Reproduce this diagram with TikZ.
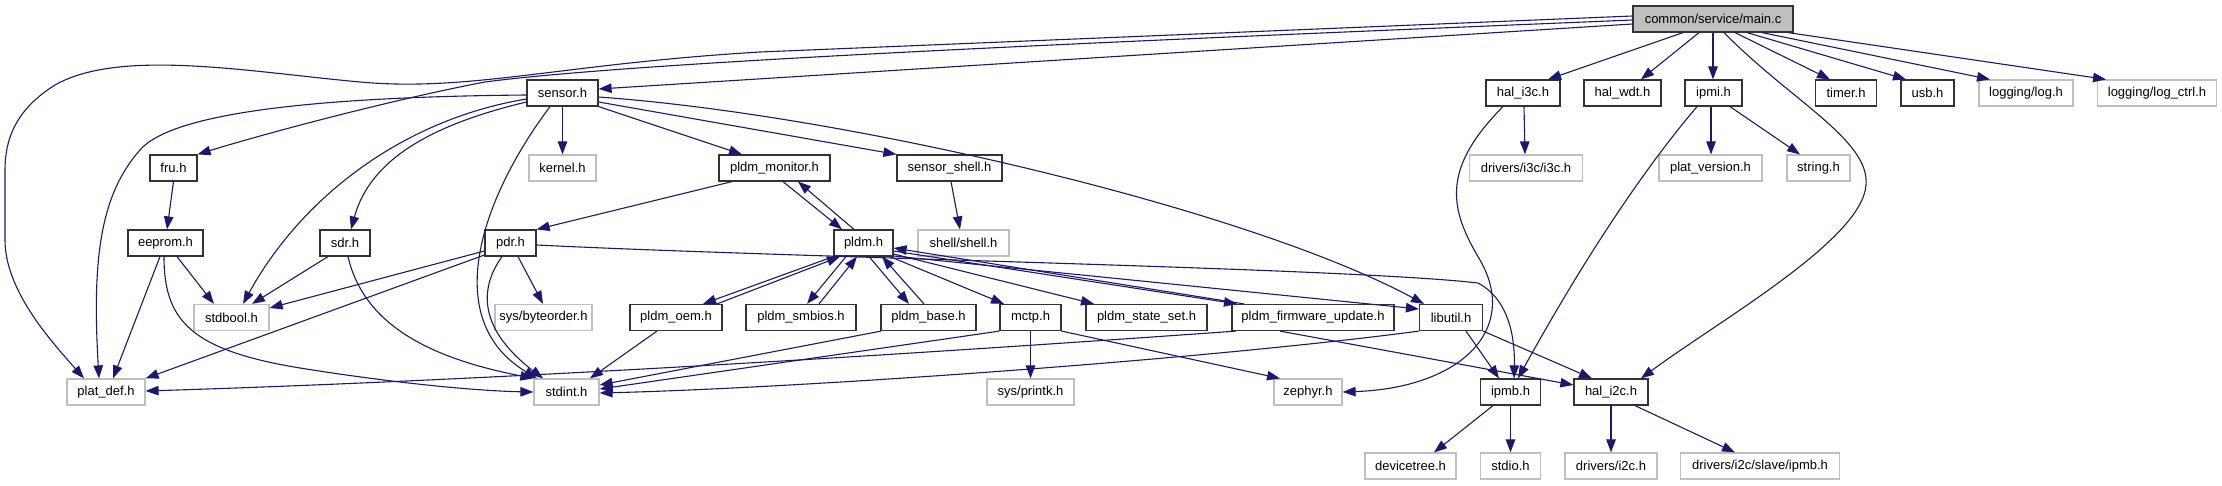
\documentclass[tikz,border=0pt]{standalone}
\usepackage{fontspec}
\setmainfont{Liberation Sans}
\usetikzlibrary{arrows.meta}
\definecolor{edgeblue}{HTML}{191970}
\definecolor{extgray}{HTML}{BFBFBF}
\definecolor{maingray}{HTML}{BFBFBF}
\definecolor{boxline}{HTML}{333333}
\newcommand\labfont{\fontsize{13}{15}\selectfont}
\tikzset{
  box/.style={draw=boxline, line width=1.2pt, fill=white, minimum height=26pt, inner sep=0pt, font=\labfont},
  ext/.style={box, draw=extgray},
  e/.style={draw=edgeblue, line width=1.1pt, -{Triangle[length=13pt,width=9.5pt]}},
}
\begin{document}
\begin{tikzpicture}[x=1pt,y=-1pt]
\useasboundingbox (0,0) rectangle (2222,485);
% row 1
\node[box, fill=maingray, minimum width=160pt] (main) at (1713,19) {common/service/main.c};
% row 2
\node[box, minimum width=71pt] (sensor) at (562.5,93) {sensor.h};
\node[box, minimum width=74pt] (hali3c) at (1523,93) {hal\_i3c.h};
\node[box, minimum width=77pt] (halwdt) at (1622.5,93) {hal\_wdt.h};
\node[box, minimum width=57pt] (ipmi) at (1713.5,93) {ipmi.h};
\node[box, minimum width=61pt] (timer) at (1846,93) {timer.h};
\node[box, minimum width=53pt] (usb) at (1927.5,93) {usb.h};
\node[ext, minimum width=94pt] (log) at (2026,93) {logging/log.h};
\node[ext, minimum width=119pt] (logctrl) at (2157,93) {logging/log\_ctrl.h};
% row 3
\node[box, minimum width=47pt] (fru) at (173.5,168) {fru.h};
\node[ext, minimum width=67pt] (kernel) at (562.5,168) {kernel.h};
\node[box, minimum width=111pt] (pldmmon) at (774.5,168) {pldm\_monitor.h};
\node[box, minimum width=105pt] (sshell) at (949.5,168) {sensor\_shell.h};
\node[ext, minimum width=113pt] (i3c) at (1526,168) {drivers/i3c/i3c.h};
\node[ext, minimum width=103pt] (platver) at (1710.5,168) {plat\_version.h};
\node[ext, minimum width=63pt] (string) at (1818.5,168) {string.h};
% row 4
\node[box, minimum width=75pt] (eeprom) at (165.5,243) {eeprom.h};
\node[box, minimum width=50pt] (sdr) at (345,243) {sdr.h};
\node[box, minimum width=51pt] (pdr) at (510.5,243) {pdr.h};
\node[box, minimum width=59pt] (pldm) at (863.5,243) {pldm.h};
\node[ext, minimum width=91pt] (shell) at (963.5,243) {shell/shell.h};
% row 5
\node[ext, minimum width=75pt] (stdbool) at (231.5,317.5) {stdbool.h};
\node[ext, minimum width=97pt] (byteorder) at (543.5,317.5) {sys/byteorder.h};
\node[box, minimum width=92pt] (oem) at (676,317.5) {pldm\_oem.h};
\node[box, minimum width=110pt] (smbios) at (801,317.5) {pldm\_smbios.h};
\node[box, minimum width=95pt] (base) at (928.5,317.5) {pldm\_base.h};
\node[box, minimum width=61pt] (mctp) at (1030.5,317.5) {mctp.h};
\node[box, minimum width=121pt] (stateset) at (1146.5,317.5) {pldm\_state\_set.h};
\node[box, minimum width=162pt] (pfu) at (1313,317.5) {pldm\_firmware\_update.h};
\node[box, minimum width=63pt] (libutil) at (1451,317.5) {libutil.h};
% row 6
\node[ext, minimum width=78pt] (platdef) at (106,392) {plat\_def.h};
\node[ext, minimum width=65pt] (stdint) at (566.5,392) {stdint.h};
\node[ext, minimum width=87pt] (printk) at (1030.5,392) {sys/printk.h};
\node[ext, minimum width=68pt] (zephyr) at (1308,392) {zephyr.h};
\node[box, minimum width=60pt] (ipmb) at (1510.5,392) {ipmb.h};
\node[box, minimum width=74pt] (hali2c) at (1611,392) {hal\_i2c.h};
% row 7
\node[ext, minimum width=91pt] (devicetree) at (1410.5,466) {devicetree.h};
\node[ext, minimum width=60pt] (stdio) at (1510.5,466) {stdio.h};
\node[ext, minimum width=92pt] (i2c) at (1611,466) {drivers/i2c.h};
\node[ext, minimum width=159pt] (slaveipmb) at (1760,466) {drivers/i2c/slave/ipmb.h};

% ---- main.c
\draw[e] (main.west |- 0,16) -- (760,52) .. controls (560,64) and (470,92) .. (360,82) .. controls (250,72) and (120,48) .. (55,85) .. controls (15,110) and (5,140) .. (5,170) -- (5,240) .. controls (5,290) and (50,340) .. (platdef.north -| 84,0);
\draw[e] (main.west |- 0,20) .. controls (1200,38) and (650,60) .. (485,82) .. controls (390,100) and (260,135) .. (fru.north east);
\draw[e] (main.west |- 0,24) -- (sensor.east |- 0,89);
\draw[e] (main.south -| 1683,0) -- (hali3c.north -| 1548,0);
\draw[e] (main.south -| 1699,0) -- (halwdt.north -| 1641,0);
\draw[e] (main.south -| 1713,0) -- (ipmi.north -| 1713,0);
\draw[e] (main.south -| 1735,0) -- (timer.north -| 1830,0);
\draw[e] (main.south -| 1747,0) -- (usb.north -| 1906,0);
\draw[e] (main.south -| 1762,0) -- (log.north -| 1990,0);
\draw[e] (main.south -| 1788,0) -- (logctrl.north -| 2106,0);
\draw[e] (main.south -| 1724,0) .. controls (1790,100) and (1870,140) .. (1866,185) .. controls (1862,240) and (1720,320) .. (hali2c.north -| 1641,0);
% ---- sensor.h
\draw[e] (sensor.west |- 0,95) .. controls (300,97) and (170,115) .. (140,150) .. controls (100,195) and (92,260) .. (platdef.north -| 99,0);
\draw[e] (sensor.west |- 0,99) .. controls (400,120) and (300,200) .. (stdbool.north -| 243,0);
\draw[e] (sensor.west |- 0,102) .. controls (430,125) and (370,160) .. (sdr.north -| 351,0);
\draw[e] (sensor.south -| 550,0) .. controls (480,200) and (440,320) .. (stdint.north -| 537,0);
\draw[e] (sensor.south) -- (kernel.north);
\draw[e] (sensor.south east) -- (pldmmon.north -| 742,0);
\draw[e] (sensor.east |- 0,102) -- (sshell.north west);
\draw[e] (sensor.east |- 0,97) .. controls (850,115) and (1250,210) .. (libutil.north -| 1424,0);
% ---- fru / eeprom / sdr / pdr
\draw[e] (fru.south) -- (eeprom.north -| 167,0);
\draw[e] (eeprom.south -| 177,0) -- (stdbool.north -| 214,0);
\draw[e] (eeprom.south -| 160,0) -- (platdef.north -| 113,0);
\draw[e] (eeprom.south -| 164,0) .. controls (164,320) and (190,350) .. (300,368) .. controls (400,384) and (480,391) .. (stdint.west |- 0,392);
\draw[e] (sdr.south -| 328,0) -- (stdbool.north -| 252,0);
\draw[e] (sdr.south -| 348,0) .. controls (365,330) and (440,360) .. (stdint.north west);
\draw[e] (pdr.west |- 0,251) -- (stdbool.east |- 0,308);
\draw[e] (pdr.west |- 0,255) -- (platdef.north east);
\draw[e] (pdr.south -| 502,0) .. controls (478,290) and (480,330) .. (stdint.north -| 543,0);
\draw[e] (pdr.south -| 518,0) -- (byteorder.north -| 543,0);
\draw[e] (pdr.east |- 0,245) .. controls (800,258) and (1350,268) .. (1478,283) .. controls (1510,300) and (1515,340) .. (ipmb.north -| 1514,0);
% ---- pldm family
\draw[e] (pldmmon.south -| 732,0) -- (pdr.north east);
\draw[e] (pldmmon.south -| 783,0) -- (pldm.north -| 842,0);
\draw[e] (pldm.north -| 854,0) -- (pldmmon.south -| 798,0);
\draw[e] (sshell.south -| 951,0) -- (shell.north -| 960,0);
\draw[e] (pldm.south west) -- (oem.north -| 703,0);
\draw[e] (oem.north -| 717,0) -- (pldm.south -| 840,0);
\draw[e] (pldm.south -| 846,0) -- (smbios.north -| 807,0);
\draw[e] (smbios.north -| 819,0) -- (pldm.south -| 857,0);
\draw[e] (pldm.south -| 869,0) -- (base.north -| 909,0);
\draw[e] (base.north -| 924,0) -- (pldm.south -| 882,0);
\draw[e] (pldm.south -| 890,0) -- (mctp.north -| 1004,0);
\draw[e] (pldm.east |- 0,254) -- (stateset.north -| 1094,0);
\draw[e] (pldm.east |- 0,251) -- (pfu.north -| 1237,0);
\draw[e] (pfu.north -| 1244,0) -- (pldm.east |- 0,248);
\draw[e] (pldm.east |- 0,256) -- (libutil.west |- 0,309);
% ---- row 5 outgoing
\draw[e] (oem.south -| 657,0) -- (stdint.north -| 590,0);
\draw[e] (base.south -| 881,0) -- (stdint.east |- 0,385);
\draw[e] (mctp.south west) -- (stdint.east |- 0,389);
\draw[e] (mctp.south) -- (printk.north);
\draw[e] (mctp.south east) -- (zephyr.north -| 1280,0);
\draw[e] (pfu.south -| 1236,0) .. controls (900,355) and (500,380) .. (platdef.east |- 0,391);
\draw[e] (pfu.south -| 1280,0) -- (hali2c.west |- 0,385);
\draw[e] (libutil.south west) .. controls (1200,360) and (800,388) .. (stdint.east |- 0,393);
\draw[e] (libutil.south -| 1466,0) -- (ipmb.north -| 1499,0);
\draw[e] (libutil.south east) -- (hali2c.north -| 1592,0);
% ---- row 6 outgoing
\draw[e] (ipmb.south -| 1493,0) -- (devicetree.north -| 1434,0);
\draw[e] (ipmb.south) -- (stdio.north);
\draw[e] (hali2c.south) -- (i2c.north);
\draw[e] (hali2c.south -| 1635,0) -- (slaveipmb.north -| 1735,0);
% ---- row 2 right
\draw[e] (ipmi.south -| 1711,0) -- (platver.north -| 1711,0);
\draw[e] (ipmi.south -| 1730,0) -- (string.north -| 1800,0);
\draw[e] (ipmi.south -| 1697,0) .. controls (1660,150) and (1600,230) .. (ipmb.north -| 1518,0);
\draw[e] (hali3c.south -| 1524,0) -- (i3c.north -| 1525,0);
\draw[e] (hali3c.south -| 1503,0) .. controls (1440,170) and (1450,210) .. (1480,260) .. controls (1520,330) and (1460,388) .. (zephyr.east |- 0,392);
\end{tikzpicture}
\end{document}
